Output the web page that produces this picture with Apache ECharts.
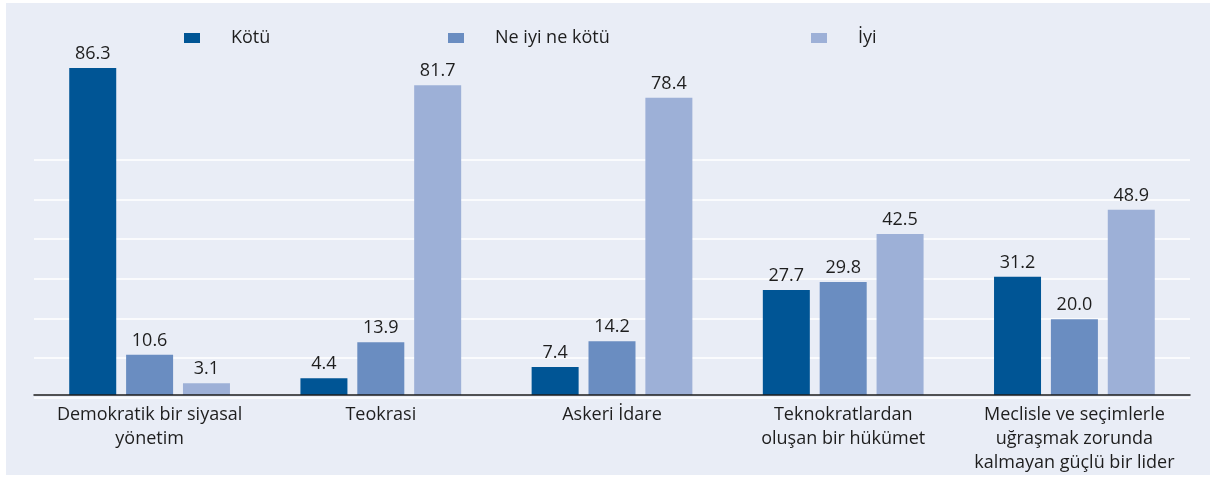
<!DOCTYPE html>
<html>
<head>
<meta charset="utf-8">
<script src="https://cdn.jsdelivr.net/npm/echarts@6/dist/echarts.min.js"></script>
<style>
  html, body { margin: 0; padding: 0; background: #ffffff; }
  #chart { position: absolute; left: 6px; top: 3px; width: 1204px; height: 472px; }
</style>
</head>
<body>
<div id="chart"></div>
<script>
const categories = [
  "Demokratik bir siyasal\nyönetim",
  "Teokrasi",
  "Askeri İdare",
  "Teknokratlardan\noluşan bir hükümet",
  "Meclisle ve seçimlerle\nuğraşmak zorunda\nkalmayan güçlü bir lider"
]
const seriesNames = ["Kötü", "Ne iyi ne kötü", "İyi"]
const kotu = [86.3, 4.4, 7.4, 27.7, 31.2]
const neIyiNeKotu = [10.6, 13.9, 14.2, 29.8, 20.0]
const iyi = [3.1, 81.7, 78.4, 42.5, 48.9]
const colors = ["#005595", "#6a8dc1", "#9db0d7"]

const font = "'Open Sans', 'Noto Sans', sans-serif"
const textColor = "#1e1e1e"

const chart = echarts.init(document.getElementById("chart"))

const makeSeries = (name, data, i) => ({
  name: name,
  type: "bar",
  data: data,
  xAxisIndex: 0,
  yAxisIndex: 0,
  barWidth: 47,
  barGap: "21%",
  itemStyle: { color: colors[i] },
  z: 3,
  label: {
    show: true,
    position: "top",
    distance: 5,
    color: textColor,
    fontFamily: font,
    fontSize: 18,
    formatter: p => p.value.toFixed(1)
  }
})

const legendAt = (name, left) => ({
  data: [name],
  left: left,
  top: 26,
  padding: 0,
  itemWidth: 16,
  itemHeight: 10,
  icon: "rect",
  selectedMode: false,
  textStyle: {
    color: textColor,
    fontFamily: font,
    fontSize: 18,
    padding: [0, 0, 0, 26]
  }
})

const option = {
  backgroundColor: "#e9edf6",
  animation: false,
  legend: [
    legendAt(seriesNames[0], 178),
    legendAt(seriesNames[1], 442),
    legendAt(seriesNames[2], 805)
  ],
  grid: [
    { left: 28, right: 20, top: 13, bottom: 77.5 },
    // separate grid only for the white horizontal lines
    { left: 28, right: 20, bottom: 77.5, height: 237.6 }
  ],
  xAxis: [
    {
      type: "category",
      gridIndex: 0,
      data: categories,
      axisLine: { show: true, lineStyle: { color: "#1e1e1e", width: 1.5 } },
      axisTick: { show: false },
      axisLabel: {
        color: textColor,
        fontFamily: font,
        fontSize: 18,
        lineHeight: 24,
        margin: 8,
        interval: 0
      },
      z: 4
    },
    { type: "category", gridIndex: 1, data: categories, show: false }
  ],
  yAxis: [
    {
      type: "value",
      gridIndex: 0,
      min: 0,
      max: 100,
      show: false,
      splitLine: { show: false }
    },
    {
      type: "value",
      gridIndex: 1,
      min: 0,
      max: 6,
      interval: 1,
      axisLine: { show: false },
      axisTick: { show: false },
      axisLabel: { show: false },
      splitLine: { show: true, lineStyle: { color: "#ffffff", width: 1.5 } },
      z: 0
    }
  ],
  series: [
    makeSeries(seriesNames[0], kotu, 0),
    makeSeries(seriesNames[1], neIyiNeKotu, 1),
    makeSeries(seriesNames[2], iyi, 2)
  ]
}

chart.setOption(option)
</script>
</body>
</html>
